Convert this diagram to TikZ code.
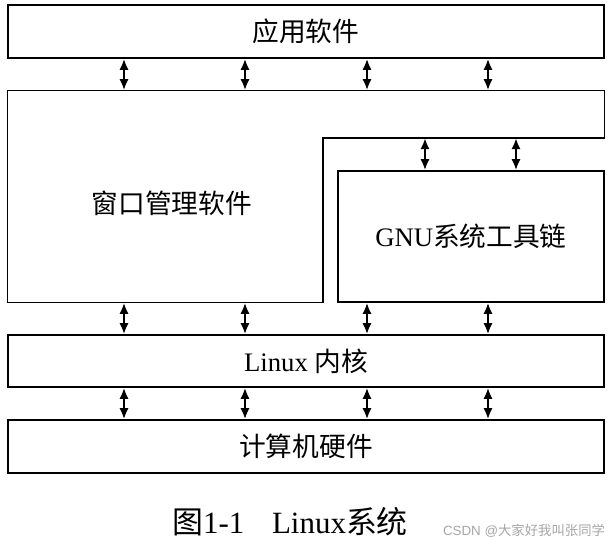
\documentclass[tikz,border=0pt]{standalone}
\usepackage{fontspec}
\setmainfont{Liberation Serif}
\setsansfont{Liberation Sans}
\newfontfamily\cjk{Noto Sans CJK SC}
\usetikzlibrary{arrows.meta, positioning, calc}

\begin{document}
\begin{tikzpicture}[
    x=1cm, y=-1cm,
    layer/.style={rectangle, draw, line width=1pt, minimum width=14.9cm, align=center, font=\fontsize{19}{22}\selectfont},
    biarrow/.style={{Latex[length=2.8mm,width=2.3mm]}-{Latex[length=2.8mm,width=2.3mm]}, line width=1.6pt}
]
    \useasboundingbox (0,0) rectangle (15.4,13.65);

    % Layers
    \node[layer, minimum height=1.325cm] (app) at (7.65,0.7875) {\cjk 应用软件};
    \node[layer, draw=none, minimum height=5.275cm] (win) at (7.65,4.9125) {};
    \node[layer, minimum width=6.65cm, minimum height=3.275cm] (gnu) at (11.775,5.9125) {GNU{\cjk 系统工具链}};
    \node[layer, minimum height=1.3cm] (kernel) at (7.65,9.025) {Linux {\cjk 内核}};
    \node[layer, minimum height=1.325cm] (hw) at (7.65,11.1625) {\cjk 计算机硬件};

    % Window manager (L shape)
    \coordinate (step) at (8.075,3.45);
    \draw[line width=1pt] (win.north west) -- (win.north east) -- (win.east |- step) -- (step)
        -- (step |- win.south) -- (win.south west) -- cycle;
    \node[font=\fontsize{19}{22}\selectfont] (winlabel) at (4.3,5.075) {\cjk 窗口管理软件};

    % Columns
    \foreach \x [count=\i] in {3.1,6.125,9.175,12.2}
        \coordinate (col\i) at (\x,0);
    \coordinate (gcol1) at (10.625,0);
    \coordinate (gcol2) at (12.9,0);

    % Arrows
    \foreach \i in {1,...,4} {
        \draw[biarrow] (app.south -| col\i) -- (win.north -| col\i);
        \draw[biarrow] (win.south -| col\i) -- (kernel.north -| col\i);
        \draw[biarrow] (kernel.south -| col\i) -- (hw.north -| col\i);
    }
    \foreach \i in {1,2}
        \draw[biarrow] (step -| gcol\i) -- (gnu.north -| gcol\i);

    % Caption
    \node[font=\fontsize{22}{25}\selectfont] (caption) at (7.25,13.05) {{\cjk 图}1-1\hspace{0.9em}Linux{\cjk 系统}};
    \node[font=\fontsize{9.5}{11}\selectfont, text=gray!70] (mark) at (13.1,13.27) {\sffamily CSDN @{\cjk 大家好我叫张同学}};
\end{tikzpicture}
\end{document}
